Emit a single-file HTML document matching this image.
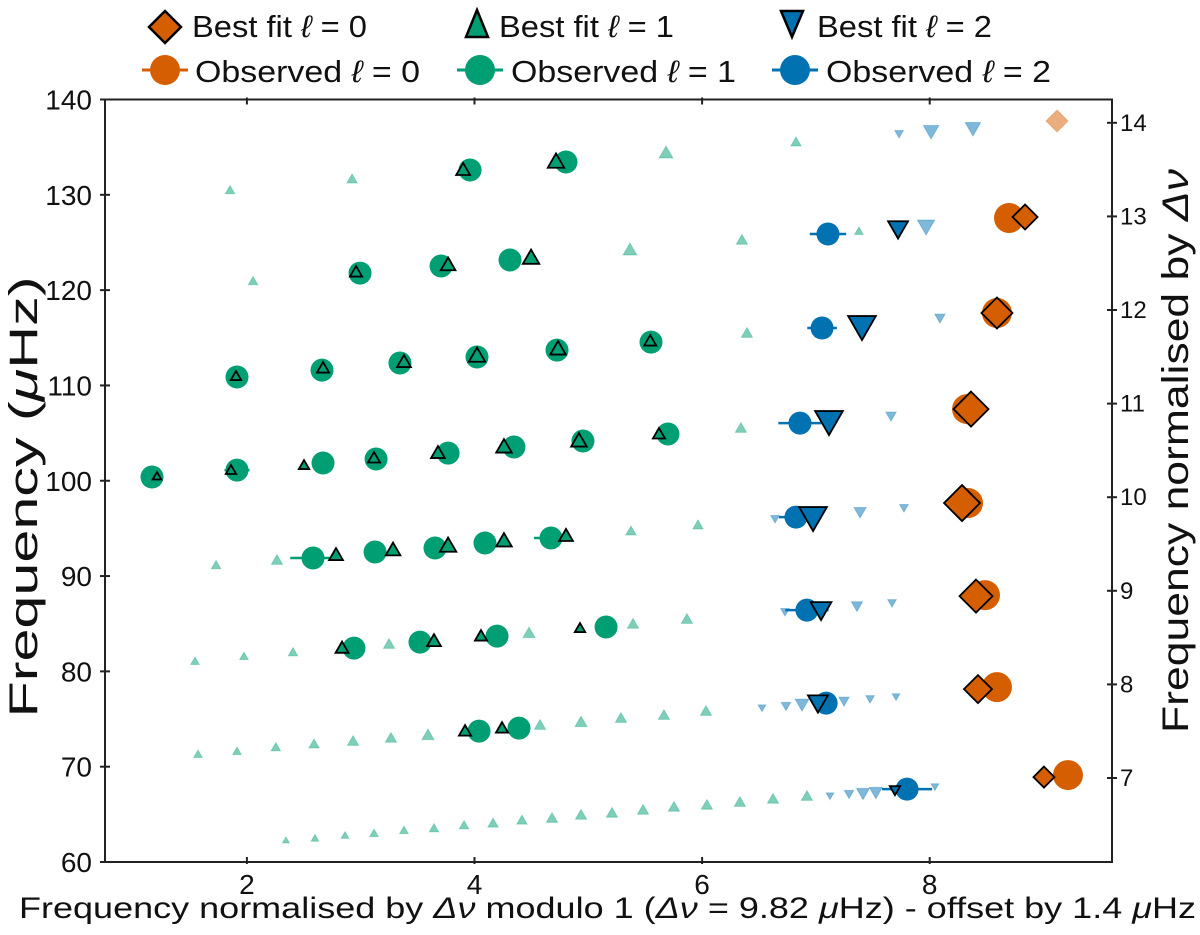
<!DOCTYPE html>
<html><head><meta charset="utf-8"><style>
html,body{margin:0;padding:0;background:#fff;}
svg{display:block;font-family:"Liberation Sans","DejaVu Sans",sans-serif;}
</style></head><body>
<svg id="chart" width="1200" height="935" viewBox="0 0 1200 935" xmlns="http://www.w3.org/2000/svg">
<g id="legend"></g>
<g id="axes"></g>
<g id="marks"></g>
</svg>
<script>
// ---- data ----
const xTicks = [2, 4, 6, 8];
const yTicks = [60, 70, 80, 90, 100, 110, 120, 130, 140];
const rTicks = [7, 8, 9, 10, 11, 12, 13, 14];

const obs0X = [8.697, 8.591, 8.328, 8.337, 8.486, 8.591, 9.215];
const obs0Y = [127.57, 117.60, 107.52, 97.66, 88.00, 78.35, 69.12];
const fit0X = [8.838, 8.591, 8.363, 8.284, 8.407, 8.424, 9.004];
const fit0Y = [127.67, 117.60, 107.52, 97.66, 87.90, 78.14, 68.91];
const fit0S = [12.5, 15.5, 17.5, 18, 16.5, 14, 10.5];
const faint0X = [9.119];
const faint0Y = [137.74];
const faint0S = [11];

const obs2X = [7.106, 7.054, 6.860, 6.825, 6.921, 7.090, 7.801];
const obs2Y = [125.89, 116.02, 106.05, 96.19, 86.43, 76.67, 67.64];
const obs2E = [0.16, 0.13, 0.19, 0.15, 0.19, 0.10, 0.22];
const fit2X = [7.722, 7.405, 7.115, 6.975, 7.045, 7.018, 7.695];
const fit2Y = [126.62, 116.44, 106.47, 96.40, 86.64, 76.88, 67.64];
const fit2S = [11.5, 16, 16, 16, 12, 11.5, 6];
const faint2X = [7.731, 8.012, 8.380, 7.968, 8.090, 7.660, 6.641, 7.388, 7.774, 6.728, 7.361, 7.669, 6.526, 6.737, 6.878, 7.247, 7.476, 7.704, 7.124, 7.291, 7.414, 7.527, 8.046];
const faint2Y = [136.48, 136.80, 137.11, 126.83, 117.17, 106.89, 96.09, 96.82, 97.24, 86.33, 86.96, 87.27, 76.25, 76.46, 76.67, 76.99, 77.20, 77.41, 67.02, 67.23, 67.33, 67.44, 67.97];
const faint2S = [5, 9, 9, 10, 6, 6, 5, 7, 5, 5, 6.5, 5, 4.5, 5.5, 8, 6, 5, 4.5, 4.5, 5.5, 7.5, 7.5, 4.5];

const obs1X = [3.961, 4.804, 2.994, 3.706, 4.312, 1.913, 2.660, 3.345, 4.022, 4.725, 5.551, 1.166, 1.913, 2.669, 3.135, 3.768, 4.347, 4.953, 5.700, 2.581, 3.126, 3.653, 4.092, 4.672, 2.941, 3.521, 4.198, 5.156, 4.040, 4.391];
const obs1Y = [132.60, 133.44, 121.79, 122.53, 123.16, 110.88, 111.61, 112.35, 112.98, 113.71, 114.55, 100.39, 101.12, 101.86, 102.28, 102.90, 103.54, 104.17, 104.90, 91.89, 92.52, 92.94, 93.47, 93.99, 82.44, 83.07, 83.70, 84.65, 73.73, 74.05];
const obs1E = [0, 0, 0, 0, 0, 0, 0, 0, 0, 0, 0, 0, 0.11, 0, 0, 0, 0, 0, 0, 0.2, 0, 0.1, 0, 0.15, 0, 0, 0, 0, 0, 0];
const fit1X = [3.900, 4.716, 2.959, 3.768, 4.497, 1.904, 2.669, 3.380, 4.022, 4.734, 5.544, 1.210, 1.860, 2.502, 3.117, 3.679, 4.259, 4.918, 5.621, 2.783, 3.284, 3.768, 4.259, 4.804, 2.836, 3.644, 4.057, 4.927, 3.917, 4.242];
const fit1Y = [132.50, 133.34, 121.79, 122.53, 123.26, 110.88, 111.72, 112.35, 112.98, 113.71, 114.55, 100.39, 101.02, 101.54, 102.28, 102.80, 103.43, 104.06, 104.80, 92.10, 92.62, 93.05, 93.57, 94.10, 82.34, 83.07, 83.60, 84.44, 73.63, 73.94];
const fit1S = [8, 9.5, 7, 8.5, 9.5, 6, 7, 8, 9.5, 9, 7, 5, 6, 6, 7, 8, 9, 9, 7, 8, 8.5, 9.5, 9, 8, 7.5, 8, 7, 6, 7, 7];
const faint1X = [1.852, 2.924, 5.683, 6.825, 2.054, 5.366, 6.350, 7.378, 6.394, 6.341, 5.375, 5.964, 1.729, 2.264, 5.393, 5.867, 1.544, 1.974, 2.405, 3.249, 4.479, 5.287, 5.665, 6.034, 1.570, 1.913, 2.254, 2.590, 2.933, 3.266, 3.591, 4.576, 4.936, 2.343, 2.598, 2.862, 3.117, 3.380, 3.644, 3.908, 4.163, 4.417, 4.681, 4.936, 5.208, 5.481, 5.753, 6.042, 6.332, 6.623, 6.921];
const faint1Y = [130.40, 131.55, 134.28, 135.44, 120.85, 124.10, 125.15, 126.10, 115.39, 105.42, 94.62, 95.25, 91.05, 91.57, 84.86, 85.38, 80.98, 81.50, 81.92, 82.76, 83.91, 74.99, 75.31, 75.73, 71.22, 71.53, 71.95, 72.27, 72.58, 72.90, 73.21, 74.26, 74.57, 62.20, 62.41, 62.72, 62.93, 63.24, 63.45, 63.77, 63.98, 64.29, 64.50, 64.82, 65.03, 65.35, 65.66, 65.87, 66.18, 66.50, 66.81];
const faint1S = [5.5, 6, 8, 6, 5.5, 8, 6.5, 5, 6.5, 6.5, 6, 6, 5.5, 6.5, 6.5, 6.5, 5, 5, 5.5, 6.5, 7, 6.5, 6.5, 6.5, 5, 5, 5.5, 6, 6.5, 6.5, 7, 6.5, 7, 4, 4.5, 4.5, 5, 5, 5.5, 5.5, 6, 6, 6.5, 6.5, 6.5, 6.5, 6.5, 6.5, 6.5, 6.5, 6.5];

// ---- axes ----
const PL = 105, PR = 1112, PT = 99.5, PB = 862;
const X0 = 19.3, XS = 113.8;
function sx(v){ return X0 + v * XS; }
function sy(v){ return PB - (v - 60) * (PB - PT) / 80; }
function ry(k){ return 778 - (k - 7) * 93.6; }

const C0 = '#D55E00', C1 = '#009E73', C2 = '#0072B2';
const NS = 'http://www.w3.org/2000/svg';
function mk(tag, attrs, parent){
  const e = document.createElementNS(NS, tag);
  for (const k in attrs) e.setAttribute(k, attrs[k]);
  parent.appendChild(e);
  return e;
}
function triPts(cx, cy, s, down){
  const d = down ? -1 : 1;
  return [[cx, cy - d*s], [cx - 0.866*s, cy + d*0.5*s], [cx + 0.866*s, cy + d*0.5*s]].map(p => p.join(',')).join(' ');
}
function diaPts(cx, cy, s){
  return [[cx, cy - s], [cx + s, cy], [cx, cy + s], [cx - s, cy]].map(p => p.join(',')).join(' ');
}

const axes = document.getElementById('axes');
const marks = document.getElementById('marks');
const legend = document.getElementById('legend');

const frame = mk('rect', {x: PL, y: PT, width: PR - PL, height: PB - PT, fill: 'none', stroke: '#222', 'stroke-width': 2}, axes);



xTicks.forEach(t => {
  const x = sx(t);
  const tb = mk('line', {x1: x, x2: x, y1: PB - 5, y2: PB + 2, stroke: '#222', 'stroke-width': 2}, axes);
  
  
  const tt = mk('line', {x1: x, x2: x, y1: PT - 2, y2: PT + 5, stroke: '#222', 'stroke-width': 2}, axes);
  
  
  const lb = mk('text', {x: x, y: 894, 'text-anchor': 'middle', 'font-size': 28, fill: '#111'}, axes);
  lb.textContent = t;
  
  
});
yTicks.forEach(t => {
  const y = sy(t);
  const tk = mk('line', {x1: PL - 5, x2: PL + 5, y1: y, y2: y, stroke: '#222', 'stroke-width': 2}, axes);
  
  
  const lb = mk('text', {x: 92, y: y + 10, 'text-anchor': 'end', 'font-size': 28, fill: '#111'}, axes);
  lb.textContent = t;
  
  
});
rTicks.forEach(t => {
  const y = ry(t);
  const tk = mk('line', {x1: PR - 5, x2: PR + 5, y1: y, y2: y, stroke: '#222', 'stroke-width': 2}, axes);
  
  
  const lb = mk('text', {x: 1120, y: y + 8, 'text-anchor': 'start', 'font-size': 24, fill: '#111'}, axes);
  lb.textContent = t;
  
  
});

const xt = mk('text', {x: 19, y: 918, 'font-size': 30, fill: '#111', textLength: 1177, lengthAdjust: 'spacingAndGlyphs'}, axes);
xt.innerHTML = 'Frequency normalised by <tspan font-style="italic">Δν</tspan> modulo 1 (<tspan font-style="italic">Δν</tspan> = 9.82 <tspan font-style="italic">μ</tspan>Hz) - offset by 1.4 <tspan font-style="italic">μ</tspan>Hz';



const yt = mk('text', {x: 0, y: 0, 'font-size': 40, fill: '#111', 'text-anchor': 'middle', transform: 'translate(37,497) rotate(-90)', textLength: 441, lengthAdjust: 'spacingAndGlyphs'}, axes);
yt.innerHTML = 'Frequency (<tspan font-style="italic">μ</tspan>Hz)';



const rt = mk('text', {x: 0, y: 0, 'font-size': 37, fill: '#111', 'text-anchor': 'middle', transform: 'translate(1188,451) rotate(-90)', textLength: 564, lengthAdjust: 'spacingAndGlyphs'}, axes);
rt.innerHTML = 'Frequency normalised by <tspan font-style="italic">Δν</tspan>';



// ---- marks ----
faint1X.forEach((v, i) => {
  const p = mk('polygon', {points: triPts(sx(v), sy(faint1Y[i]), faint1S[i], false), fill: C1, 'fill-opacity': 0.5, stroke: C1, 'stroke-opacity': 0.3}, marks);
  
  
});
faint2X.forEach((v, i) => {
  const p = mk('polygon', {points: triPts(sx(v), sy(faint2Y[i]), faint2S[i], true), fill: C2, 'fill-opacity': 0.5, stroke: C2, 'stroke-opacity': 0.3}, marks);
  
  
});
faint0X.forEach((v, i) => {
  const p = mk('polygon', {points: diaPts(sx(v), sy(faint0Y[i]), faint0S[i]), fill: C0, 'fill-opacity': 0.5, stroke: C0, 'stroke-opacity': 0.3}, marks);
  
  
});

function obs(xs, ys, es, col, r, name){
  xs.forEach((v, i) => {
    const cx = sx(v), cy = sy(ys[i]);
    const e = es ? es[i] : 0;
    if (e > 0) {
      const l = mk('line', {x1: sx(v - e), x2: sx(v + e), y1: cy, y2: cy, stroke: col, 'stroke-width': 2.5}, marks);
      
      
    }
    const c = mk('circle', {cx: cx, cy: cy, r: r, fill: col}, marks);
    
    
  });
}
obs(obs1X, obs1Y, obs1E, C1, 11.5, 'observed-l1');
obs(obs2X, obs2Y, obs2E, C2, 11.5, 'observed-l2');
obs(obs0X, obs0Y, null, C0, 15, 'observed-l0');

fit1X.forEach((v, i) => {
  const p = mk('polygon', {points: triPts(sx(v), sy(fit1Y[i]), fit1S[i], false), fill: C1, stroke: '#000', 'stroke-width': 1.8}, marks);
  
  
});
fit2X.forEach((v, i) => {
  const p = mk('polygon', {points: triPts(sx(v), sy(fit2Y[i]), fit2S[i], true), fill: C2, stroke: '#000', 'stroke-width': 1.8}, marks);
  
  
});
fit0X.forEach((v, i) => {
  const p = mk('polygon', {points: diaPts(sx(v), sy(fit0Y[i]), fit0S[i]), fill: C0, stroke: '#000', 'stroke-width': 1.8}, marks);
  
  
});

// ---- legend ----
const lgFit = [[165, 192, 'Best fit ', '0', 'd'], [477, 499, 'Best fit ', '1', 'u'], [792, 817, 'Best fit ', '2', 'v']];
const lgObs = [[165, 195, 'Observed ', '0', C0], [480, 511, 'Observed ', '1', C1], [795, 826, 'Observed ', '2', C2]];
lgFit.forEach(e => {
  let p;
  if (e[4] === 'd') p = mk('polygon', {points: diaPts(e[0], 27, 16), fill: C0, stroke: '#000', 'stroke-width': 2.5}, legend);
  else if (e[4] === 'u') p = mk('polygon', {points: '' + (e[0]) + ',10 ' + (e[0]-11) + ',37 ' + (e[0]+11) + ',37', fill: C1, stroke: '#000', 'stroke-width': 2.5}, legend);
  else p = mk('polygon', {points: '' + (e[0]-11) + ',11 ' + (e[0]+11) + ',11 ' + e[0] + ',37', fill: C2, stroke: '#000', 'stroke-width': 2.5}, legend);
  
  
  const t = mk('text', {x: e[1], y: 37, 'font-size': 31, fill: '#111', textLength: 175, lengthAdjust: 'spacingAndGlyphs'}, legend);
  t.innerHTML = e[2] + '<tspan font-style="italic">ℓ</tspan> = ' + e[3];
  
  
});
lgObs.forEach(e => {
  const l = mk('line', {x1: e[0] - 23, x2: e[0] + 23, y1: 70, y2: 70, stroke: e[4], 'stroke-width': 3}, legend);
  
  
  const c = mk('circle', {cx: e[0], cy: 70, r: 15, fill: e[4]}, legend);
  
  
  const t = mk('text', {x: e[1], y: 82, 'font-size': 31, fill: '#111', textLength: 225, lengthAdjust: 'spacingAndGlyphs'}, legend);
  t.innerHTML = e[2] + '<tspan font-style="italic">ℓ</tspan> = ' + e[3];
  
  
});
</script>
</body></html>
